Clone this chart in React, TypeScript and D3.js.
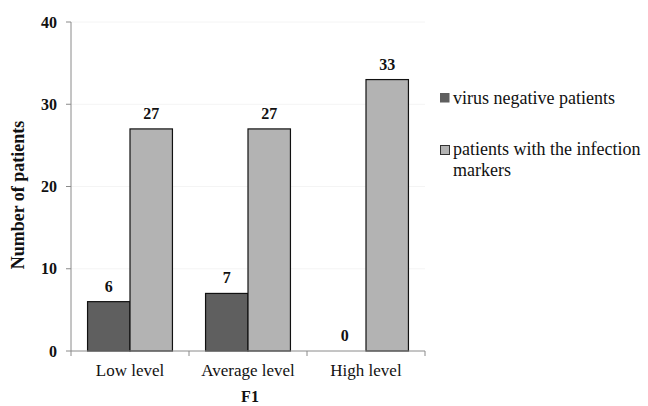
import React from "react";
import * as d3 from "d3";

const categories = ["Low level", "Average level", "High level"];
const seriesNames = ["virus negative patients", "patients with the infection markers"];
const virusNegative = [6, 7, 0];
const infectionMarkers = [27, 27, 33];
const yTicks = [0, 10, 20, 30, 40];

const W = 648;
const H = 406;
const margin = { left: 71, right: 223, top: 22, bottom: 55 };
const colors = ["#5f5f5f", "#b3b3b3"];
const serif = '"Liberation Serif", "Times New Roman", serif';
const txt = { fontFamily: serif };

export default function App() {
  const x = d3
    .scaleBand<string>()
    .domain(categories)
    .range([margin.left, W - margin.right])
    .paddingInner(0)
    .paddingOuter(0);
  const y = d3.scaleLinear().domain([0, 40]).range([H - margin.bottom, margin.top]);
  const inner = d3
    .scaleBand<number>()
    .domain([0, 1])
    .range([0, x.bandwidth()])
    .paddingOuter(0.39)
    .paddingInner(0);

  const series = [virusNegative, infectionMarkers];
  const y0 = y(0);

  return (
    <svg
      width={W}
      height={H}
      style={{ position: "absolute", left: 0, top: 0, background: "#fff" }}
    >
      {yTicks.slice(1).map((t) => (
        <line key={"g" + t} x1={margin.left} x2={W - margin.right} y1={y(t)} y2={y(t)} stroke="#f4f4f4" />
      ))}
      {series.map((vals, si) =>
        vals.map((v, ci) => {
          const bx = x(categories[ci])! + inner(si)!;
          const bw = inner.bandwidth();
          return (
            <g key={`${si}-${ci}`}>
              {v > 0 && (
                <rect
                  x={bx}
                  y={y(v)}
                  width={bw}
                  height={y0 - y(v)}
                  fill={colors[si]}
                  stroke="#111"
                  strokeWidth={1.2}
                />
              )}
              <text
                x={bx + bw / 2}
                y={y(v) - 10}
                textAnchor="middle"
                fontSize={16}
                fontWeight="bold"
                fill="#111"
                style={txt}
              >
                {v}
              </text>
            </g>
          );
        })
      )}
      {/* y axis */}
      <line x1={margin.left} x2={margin.left} y1={margin.top} y2={y0} stroke="#8a8a8a" strokeWidth={1} />
      {yTicks.map((t) => (
        <g key={"t" + t}>
          <line x1={margin.left - 5} x2={margin.left} y1={y(t)} y2={y(t)} stroke="#8a8a8a" />
          <text x={margin.left - 14} y={y(t) + 5.5} textAnchor="end" fontSize={16} fontWeight="bold" fill="#111" style={txt}>
            {t}
          </text>
        </g>
      ))}
      {/* x axis */}
      <line x1={margin.left} x2={W - margin.right} y1={y0} y2={y0} stroke="#8a8a8a" strokeWidth={1} />
      {categories.map((c, i) => (
        <g key={c}>
          <line
            x1={x(c)! + x.bandwidth()}
            x2={x(c)! + x.bandwidth()}
            y1={y0}
            y2={y0 + 5}
            stroke="#8a8a8a"
          />
          {i === 0 && <line x1={x(c)!} x2={x(c)!} y1={y0} y2={y0 + 5} stroke="#8a8a8a" />}
          <text x={x(c)! + x.bandwidth() / 2} y={y0 + 25} textAnchor="middle" fontSize={17} fill="#111" style={txt}>
            {c}
          </text>
        </g>
      ))}
      <text x={250} y={H - 4} textAnchor="middle" fontSize={16} fontWeight="bold" fill="#111" style={txt}>
        F1
      </text>
      <text
        transform="translate(24, 195) rotate(-90)"
        textAnchor="middle"
        fontSize={18}
        fontWeight="bold"
        fill="#111"
        style={txt}
      >
        Number of patients
      </text>
      {/* legend */}
      <g>
        <rect x={440} y={93} width={9.5} height={9.5} fill={colors[0]} />
        <text x={453} y={104} fontSize={18} fill="#111" style={txt}>
          {seriesNames[0]}
        </text>
        <rect x={440.5} y={145.5} width={9} height={9} fill={colors[1]} stroke="#333" strokeWidth={1} />
        <text x={453} y={155} fontSize={18} fill="#111" style={txt}>
          <tspan x={453}>patients with the infection</tspan>
          <tspan x={453} dy={21}>markers</tspan>
        </text>
      </g>
    </svg>
  );
}
